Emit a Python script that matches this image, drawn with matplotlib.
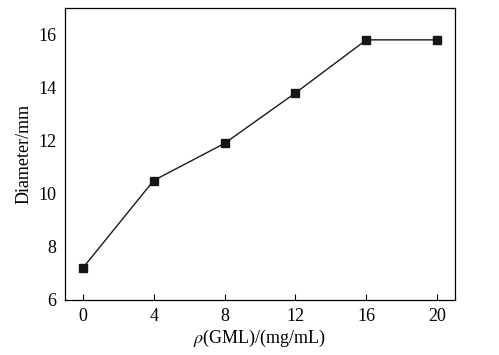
import matplotlib
matplotlib.use('Agg')
import matplotlib.pyplot as plt

conc = [0, 4, 8, 12, 16, 20]
diameter = [7.2, 10.5, 11.9, 13.8, 15.8, 15.8]
xticks = [0, 4, 8, 12, 16, 20]
yticks = [6, 8, 10, 12, 14, 16]

plt.rcParams['font.family'] = ['Liberation Serif', 'DejaVu Serif']
plt.rcParams['mathtext.fontset'] = 'stix'

fig = plt.figure(figsize=(4.99, 3.55), dpi=100)
ax = fig.add_axes([65 / 499, 55 / 355, 390 / 499, 292 / 355])

ax.plot(conc, diameter, color='#1a1a1a', lw=1.0, marker='s', ms=5.5,
        mfc='#1a1414', mec='#1a1414')

ax.set_xlim(-1, 21)
ax.set_ylim(6, 17)
ax.set_xticks(xticks)
ax.set_yticks(yticks)
ax.tick_params(axis='x', direction='in', length=4, width=0.8, labelsize=13, pad=6)
ax.tick_params(axis='y', length=0, labelsize=13, pad=6)
for s in ax.spines.values():
    s.set_linewidth(0.9)

ax.set_xlabel(r'$\rho$(GML)/(mg/mL)', fontsize=13, labelpad=2)
ax.set_ylabel('Diameter/mm', fontsize=13, labelpad=4)

fig.savefig('out.png', dpi=100)
